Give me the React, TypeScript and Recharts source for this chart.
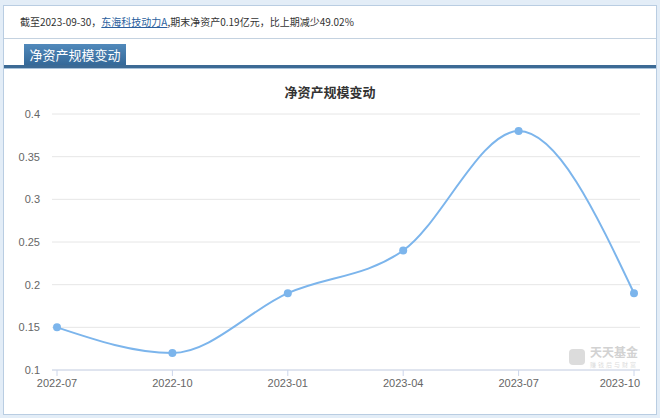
import React from 'react';
import { LineChart, Line, XAxis, YAxis, CartesianGrid } from 'recharts';

const categories = ['2022-07', '2022-10', '2023-01', '2023-04', '2023-07', '2023-10'];
const netAssets = [0.15, 0.12, 0.19, 0.24, 0.38, 0.19];
const yTicks = [0.1, 0.15, 0.2, 0.25, 0.3, 0.35, 0.4];

const chartData = categories.map((date, i) => ({ date, value: netAssets[i] }));

const tickFont = { fontSize: 11, fill: '#666666', fontFamily: '"Liberation Sans", Arial, sans-serif' };

// last label is pulled inside the plot, like the original chart does
const DateTick = (props: any) => {
  const { x, y, payload, index } = props;
  const isLast = index === categories.length - 1;
  return (
    <text
      x={isLast ? x + 6 : x}
      y={y}
      dy="0.71em"
      textAnchor={isLast ? 'end' : 'middle'}
      {...tickFont}
    >
      {payload.value}
    </text>
  );
};

export default function App() {
  return (
    <div style={{ position: 'absolute', left: 0, top: 0, width: 660, height: 418, background: '#e3edf7', overflow: 'hidden' }}>
      <style>{'body{margin:0}'}</style>
      <div
        style={{
          position: 'absolute',
          left: 3,
          top: 5,
          width: 652,
          height: 408,
          background: '#ffffff',
          border: '1px solid #b9cde2',
        }}
      />
      <div
        style={{
          position: 'absolute',
          left: 20,
          top: 15,
          fontSize: 10,
          lineHeight: '14px',
          color: '#333',
          fontFamily: '"Noto Sans CJK SC", sans-serif',
          whiteSpace: 'nowrap',
        }}
      >
        截至2023-09-30，
        <span style={{ color: '#2b5f9e', textDecoration: 'underline' }}>东海科技动力A</span>
        ,期末净资产0.19亿元，比上期减少49.02%
      </div>
      <div style={{ position: 'absolute', left: 4, top: 38, width: 652, height: 1, background: '#c4d2e0' }} />
      <div
        style={{
          position: 'absolute',
          left: 24,
          top: 44,
          width: 102,
          height: 22,
          background: 'linear-gradient(#5189bb, #336797)',
          color: '#ffffff',
          fontSize: 13,
          lineHeight: '22px',
          textAlign: 'center',
          fontFamily: '"Noto Sans CJK SC", sans-serif',
        }}
      >
        净资产规模变动
      </div>
      <div style={{ position: 'absolute', left: 4, top: 65, width: 652, height: 3, background: '#3c6a95' }} />
      <div style={{ position: 'absolute', left: 4, top: 68, width: 652, height: 1, background: '#a9c3db' }} />
      <div
        style={{
          position: 'absolute',
          left: 0,
          width: 660,
          top: 82,
          textAlign: 'center',
          fontSize: 13,
          fontWeight: 'bold',
          color: '#333333',
          fontFamily: '"Noto Sans CJK SC", sans-serif',
        }}
      >
        净资产规模变动
      </div>
      <div
        style={{
          position: 'absolute',
          left: 569,
          top: 349,
          width: 16,
          height: 16,
          borderRadius: 4,
          background: '#dcdcdc',
        }}
      />
      <div
        style={{
          position: 'absolute',
          left: 590,
          top: 345,
          fontSize: 12,
          lineHeight: '13px',
          color: '#d2d2d2',
          fontFamily: '"Noto Sans CJK SC", serif',
          fontWeight: 'bold',
        }}
      >
        天天基金
      </div>
      <div
        style={{
          position: 'absolute',
          left: 590,
          top: 362,
          fontSize: 6,
          lineHeight: '6px',
          letterSpacing: 2,
          color: '#dddddd',
          fontFamily: '"Noto Sans CJK SC", sans-serif',
        }}
      >
        赚钱后与财富
      </div>
      <div style={{ position: 'absolute', left: 0, top: 0 }}>
        <LineChart width={660} height={418} data={chartData} margin={{ top: 114, right: 20, left: 0, bottom: 18 }}>
          <CartesianGrid vertical={false} stroke="#e6e6e6" />
          <XAxis
            dataKey="date"
            scale="point"
            padding={{ left: 5, right: 6 }}
            height={30}
            stroke="#ccd6eb"
            tickSize={6}
            tickMargin={3}
            tick={<DateTick />}
            interval={0}
          />
          <YAxis
            domain={[0.1, 0.4]}
            ticks={yTicks}
            width={52}
            axisLine={false}
            tickLine={false}
            tickSize={0}
            tickMargin={12}
            tick={tickFont}
          />
          <Line
            type="monotone"
            dataKey="value"
            stroke="#7cb5ec"
            strokeWidth={2}
            dot={{ r: 4, fill: '#7cb5ec', stroke: '#7cb5ec', strokeWidth: 0 }}
            activeDot={false}
            isAnimationActive={false}
          />
        </LineChart>
      </div>
    </div>
  );
}
